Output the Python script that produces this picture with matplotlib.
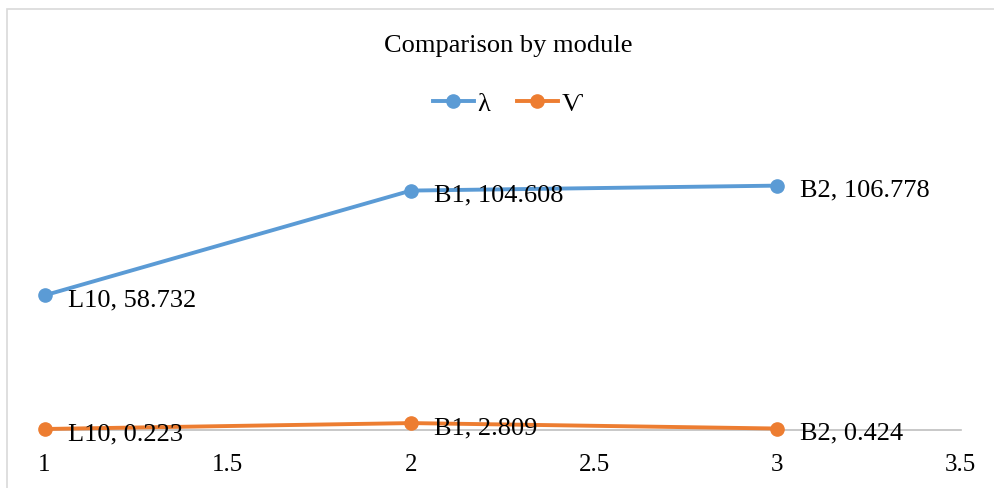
import matplotlib
matplotlib.use("Agg")
import matplotlib.pyplot as plt
from matplotlib.patches import Rectangle

x_vals = [1, 2, 3]
modules = ["L10", "B1", "B2"]
lam_vals = [58.732, 104.608, 106.778]
v_vals = [0.223, 2.809, 0.424]
series_names = ["λ", "Ѵ"]
xticks = [1, 1.5, 2, 2.5, 3, 3.5]
xtick_labels = ["1", "1.5", "2", "2.5", "3", "3.5"]
title = "Comparison by module"

plt.rcParams['font.family'] = ['Liberation Serif', 'DejaVu Serif']

W, H = 995, 489
fig = plt.figure(figsize=(W / 100, H / 100), dpi=100)

# chart border
fig.patches.append(Rectangle((7 / W, -0.05), 1.1, 1 - 10 / H + 0.05,
                             transform=fig.transFigure, fill=False,
                             edgecolor="#D9D9D9", linewidth=1.2))

left = 44.5 / W
right = 960.7 / W
bottom = 1 - 430.5 / H
top = 1 - 153 / H
ax = fig.add_axes([left, bottom, right - left, top - bottom])
ax.set_xlim(1, 3.5)
ax.set_ylim(0, 121.5)

blue = "#5B9BD5"
orange = "#ED7D31"
l1, = ax.plot(x_vals, lam_vals, color=blue, lw=2.8, marker="o", ms=9.5,
              label=series_names[0], clip_on=False, zorder=3)
l2, = ax.plot(x_vals, v_vals, color=orange, lw=2.8, marker="o", ms=9.5,
              label=series_names[1], clip_on=False, zorder=3)

for xv, m, yv in zip(x_vals, modules, lam_vals):
    ax.annotate(f"{m}, {yv:.3f}", (xv, yv), xytext=(23, -4),
                textcoords="offset pixels", va="center", ha="left",
                fontsize=19, color="black", zorder=4)
for xv, m, yv in zip(x_vals, modules, v_vals):
    ax.annotate(f"{m}, {yv:.3f}", (xv, yv), xytext=(23, -4),
                textcoords="offset pixels", va="center", ha="left",
                fontsize=19, color="black", zorder=4)

for s in ["top", "right", "left"]:
    ax.spines[s].set_visible(False)
ax.spines["bottom"].set_color("#BFBFBF")
ax.spines["bottom"].set_linewidth(1.2)
ax.set_yticks([])
ax.set_xticks(xticks)
ax.set_xticklabels(xtick_labels, fontsize=18)
ax.tick_params(axis="x", length=0, pad=17)

fig.text(508 / W, 1 - 46 / H, title, ha="center", va="center", fontsize=19)

fig.legend(handles=[l1, l2], loc="center", bbox_to_anchor=(508 / W, 1 - 104 / H),
           ncol=2, frameon=False, fontsize=19, handlelength=1.55,
           handletextpad=0.15, columnspacing=1.0, markerscale=1.0)

fig.savefig("out.png", dpi=100)
